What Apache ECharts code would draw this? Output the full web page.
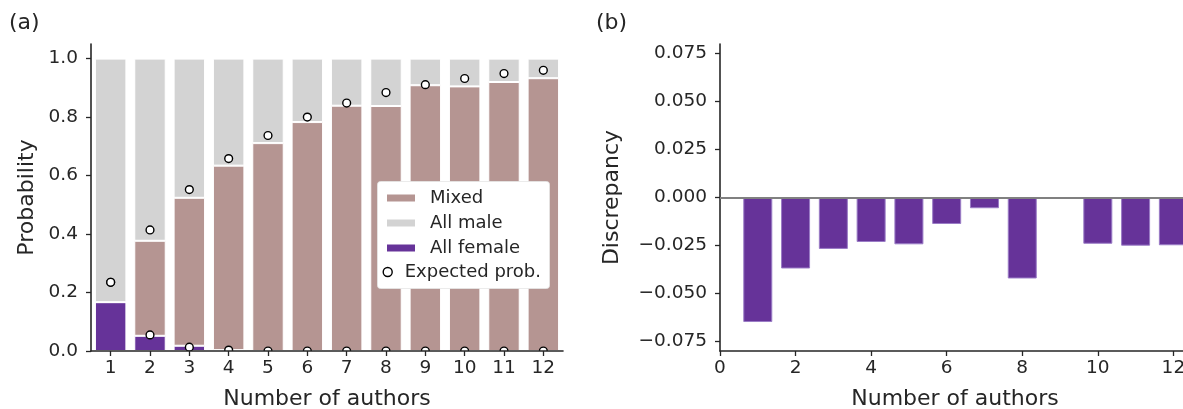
<!DOCTYPE html>
<html><head><meta charset="utf-8">
<script src="https://cdn.jsdelivr.net/npm/echarts@6/dist/echarts.min.js"></script>
<style>html,body{margin:0;padding:0;background:#fff}#c{width:1183px;height:409px}</style>
</head><body><div id="c"></div>
<script>
// ---- data ----
const categories = ['1','2','3','4','5','6','7','8','9','10','11','12'];
const allFemale = [0.167,0.052,0.018,0.003,0,0,0,0,0,0,0,0];
const mixed = [0,0.325,0.506,0.631,0.711,0.783,0.839,0.838,0.909,0.905,0.920,0.933];
const allMale = [0.833,0.623,0.476,0.366,0.289,0.217,0.161,0.162,0.091,0.095,0.080,0.067];
const expectedNotAllMale = [0.235,0.414,0.552,0.658,0.737,0.800,0.848,0.884,0.911,0.932,0.949,0.960];
const expectedAllFemale = [0.235,0.055,0.013,0.003,0,0,0,0,0,0,0,0];
const discrepancyX = [1,2,3,4,5,6,7,8,9,10,11,12];
const discrepancy = [-0.0649,-0.0370,-0.0268,-0.0232,-0.0244,-0.0138,-0.0056,-0.0422,null,-0.0241,-0.0251,-0.0249];
const probTicks = [0,0.2,0.4,0.6,0.8,1.0];
const discTicks = [-0.075,-0.05,-0.025,0,0.025,0.05,0.075];
const authorTicks = [0,2,4,6,8,10,12];

// ---- styles ----
const FONT = 'DejaVu Sans';
const TXT = '#262626';
const AX = '#262626';
const PURPLE = '#663399';
const ROSY = '#b59592';
const GRAY = '#d3d3d3';
const tickFs = 18.5, titleFs = 22, legFs = 18;

const axisLine = {show:true, onZero:false, lineStyle:{color:AX, width:1.6}};
const axisTick = {show:true, length:5, lineStyle:{color:AX, width:1.3}};

function circleItem(params, api){
  const p = api.coord([api.value(0), api.value(1)]);
  return {type:'circle', shape:{cx:p[0], cy:p[1], r:3.9},
    style:{fill:'#fff', stroke:'#000', lineWidth:1.4}};
}

const chart = echarts.init(document.getElementById('c'), null, {renderer:'canvas'});
chart.setOption({
  backgroundColor:'#fff',
  animation:false,
  textStyle:{fontFamily:FONT, color:TXT},
  title:[
    {text:'(a)', left:9, top:12, padding:0, textStyle:{fontFamily:FONT, fontSize:titleFs, fontWeight:'normal', color:TXT}},
    {text:'(b)', left:596, top:12, padding:0, textStyle:{fontFamily:FONT, fontSize:titleFs, fontWeight:'normal', color:TXT}}
  ],
  grid:[
    {left:91, top:44, width:472, height:307, containLabel:false, outerBoundsMode:'none'},
    {left:720, top:44, width:470, height:307, containLabel:false, outerBoundsMode:'none'}
  ],
  xAxis:[
    {type:'category', gridIndex:0, data:categories, boundaryGap:true,
      name:'Number of authors', nameLocation:'middle', nameGap:37,
      nameTextStyle:{fontFamily:FONT, fontSize:titleFs, color:TXT},
      axisLine:axisLine, axisTick:Object.assign({alignWithLabel:true}, axisTick),
      axisLabel:{fontFamily:FONT, fontSize:tickFs, color:TXT, margin:8},
      splitLine:{show:false}, z:5},
    {type:'value', gridIndex:1, min:0, max:12.44,
      name:'Number of authors', nameLocation:'middle', nameGap:37,
      nameTextStyle:{fontFamily:FONT, fontSize:titleFs, color:TXT},
      axisLine:axisLine,
      axisTick:Object.assign({customValues:authorTicks}, axisTick),
      axisLabel:{customValues:authorTicks, fontFamily:FONT, fontSize:tickFs, color:TXT, margin:8},
      splitLine:{show:false}}
  ],
  yAxis:[
    {type:'value', gridIndex:0, min:0, max:1.05,
      name:'Probability', nameLocation:'middle', nameGap:53, nameRotate:90,
      nameTextStyle:{fontFamily:FONT, fontSize:titleFs, color:TXT},
      axisLine:axisLine,
      axisTick:Object.assign({customValues:probTicks}, axisTick),
      axisLabel:{customValues:probTicks, formatter:v=>v.toFixed(1), fontFamily:FONT, fontSize:tickFs, color:TXT, margin:13},
      splitLine:{show:false}},
    {type:'value', gridIndex:1, min:-0.08, max:0.08,
      name:'Discrepancy', nameLocation:'middle', nameGap:97, nameRotate:90,
      nameTextStyle:{fontFamily:FONT, fontSize:titleFs, color:TXT},
      axisLine:axisLine,
      axisTick:Object.assign({customValues:discTicks}, axisTick),
      axisLabel:{customValues:discTicks, formatter:v=>v.toFixed(3).replace('-','\u2212'), fontFamily:FONT, fontSize:tickFs, color:TXT, margin:13},
      splitLine:{show:false}}
  ],
  graphic:[
    {type:'rect', left:377, top:181, shape:{width:172, height:107, r:3}, style:{fill:'#fff', stroke:'rgba(230,230,230,0.8)', lineWidth:1}, z:10}
  ],
  legend:[
    {data:['Mixed','All male','All female'], orient:'vertical', left:385, top:189, padding:0,
      itemWidth:30, itemHeight:9, itemGap:7, z:20, icon:'rect',
      textStyle:{fontFamily:FONT, fontSize:legFs, color:TXT, lineHeight:18, padding:[0,0,0,9]}},
    {data:[{name:'Expected prob.', icon:'circle', itemStyle:{color:'#fff', borderColor:'#000', borderWidth:1.4}}],
      orient:'vertical', left:382.5, top:263, padding:0,
      itemWidth:9, itemHeight:9, z:20,
      textStyle:{fontFamily:FONT, fontSize:legFs, color:TXT, lineHeight:18, padding:[0,0,0,7.5]}}
  ],
  series:[
    {name:'All female', type:'bar', xAxisIndex:0, yAxisIndex:0, stack:'a', data:allFemale, barWidth:'80%',
      itemStyle:{color:PURPLE, borderColor:'#fff', borderWidth:1}},
    {name:'Mixed', type:'bar', xAxisIndex:0, yAxisIndex:0, stack:'a', data:mixed, barWidth:'80%',
      itemStyle:{color:ROSY, borderColor:'#fff', borderWidth:1}},
    {name:'All male', type:'bar', xAxisIndex:0, yAxisIndex:0, stack:'a', data:allMale, barWidth:'80%',
      itemStyle:{color:GRAY, borderColor:'#fff', borderWidth:1}},
    {name:'Expected prob.', type:'custom', xAxisIndex:0, yAxisIndex:0, clip:true, z:4,
      data:categories.map((c,i)=>[i, expectedNotAllMale[i]]), renderItem:circleItem},
    {name:'Expected prob.', type:'custom', xAxisIndex:0, yAxisIndex:0, clip:true, z:4,
      data:categories.map((c,i)=>[i, expectedAllFemale[i]]), renderItem:circleItem},
    {name:'Discrepancy', type:'bar', xAxisIndex:1, yAxisIndex:1, barWidth:29,
      data:discrepancyX.map((x,i)=>[x, discrepancy[i]]),
      itemStyle:{color:PURPLE, borderColor:'#9a7cc6', borderWidth:1},
      markLine:{silent:true, symbol:'none', label:{show:false}, z:5,
        lineStyle:{color:'#808080', width:2, type:'solid'}, data:[{yAxis:0}]}}
  ]
});
</script>
</body></html>
